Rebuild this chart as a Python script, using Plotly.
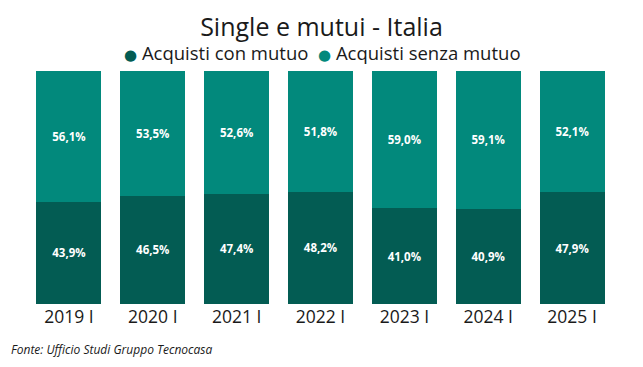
import plotly.graph_objects as go

categories = ["2019 I", "2020 I", "2021 I", "2022 I", "2023 I", "2024 I", "2025 I"]
series_names = ["Acquisti con mutuo", "Acquisti senza mutuo"]
con_mutuo = [43.9, 46.5, 47.4, 48.2, 41.0, 40.9, 47.9]
senza_mutuo = [56.1, 53.5, 52.6, 51.8, 59.0, 59.1, 52.1]

DARK = "#035C53"
LIGHT = "#02897C"
TEXT = "#1a1a1a"
LABEL_FONT = dict(color="white", size=11.5, family="Open Sans, Noto Sans, sans-serif", weight="bold")

def fmt(v):
    return f"{v:.1f}%".replace(".", ",")

fig = go.Figure()
for name, vals, col in [(series_names[0], con_mutuo, DARK), (series_names[1], senza_mutuo, LIGHT)]:
    fig.add_trace(go.Bar(x=categories, y=vals, name=name, marker_color=col, marker_line_width=0,
                         text=[fmt(v) for v in vals], textposition="inside",
                         insidetextanchor="middle", showlegend=False, textfont=LABEL_FONT,
                         hoverinfo="skip"))

# Figure is sized 16px smaller than the window to account for the page's default 8px body margin
fig.update_layout(
    barmode="stack", bargap=0.225,
    width=627, height=351,
    margin=dict(l=18.5, r=21, t=63, b=55, autoexpand=False),
    plot_bgcolor="white", paper_bgcolor="white",
    font=dict(family="Open Sans, Noto Sans, sans-serif", color=TEXT),
    title=dict(text="Single e mutui - Italia", x=0.5, xanchor="center", y=0.946, yanchor="middle",
               font=dict(size=25, color=TEXT)),
    showlegend=False,
    xaxis=dict(showgrid=False, showline=False, ticks="", tickfont=dict(size=17.5, color=TEXT)),
    yaxis=dict(visible=False, range=[0, 100]),
    uniformtext=dict(minsize=8, mode="show"),
)

dot = '<span style="color:{c};font-family:DejaVu Sans;font-size:15px">●</span>'
legend_text = (dot.format(c=DARK) + " " + series_names[0] + "  " +
               dot.format(c=LIGHT) + " " + series_names[1])
fig.add_annotation(text=legend_text, xref="paper", yref="paper", x=0.503, y=1.0815,
                   xanchor="center", yanchor="middle", showarrow=False,
                   font=dict(size=18.5, color=TEXT))
fig.add_annotation(text="<i>Fonte: Ufficio Studi Gruppo Tecnocasa</i>", xref="paper", yref="paper",
                   x=-0.0315, y=-0.197, xanchor="left", yanchor="middle", showarrow=False,
                   font=dict(size=12, color=TEXT))

fig.write_html("out.html")
